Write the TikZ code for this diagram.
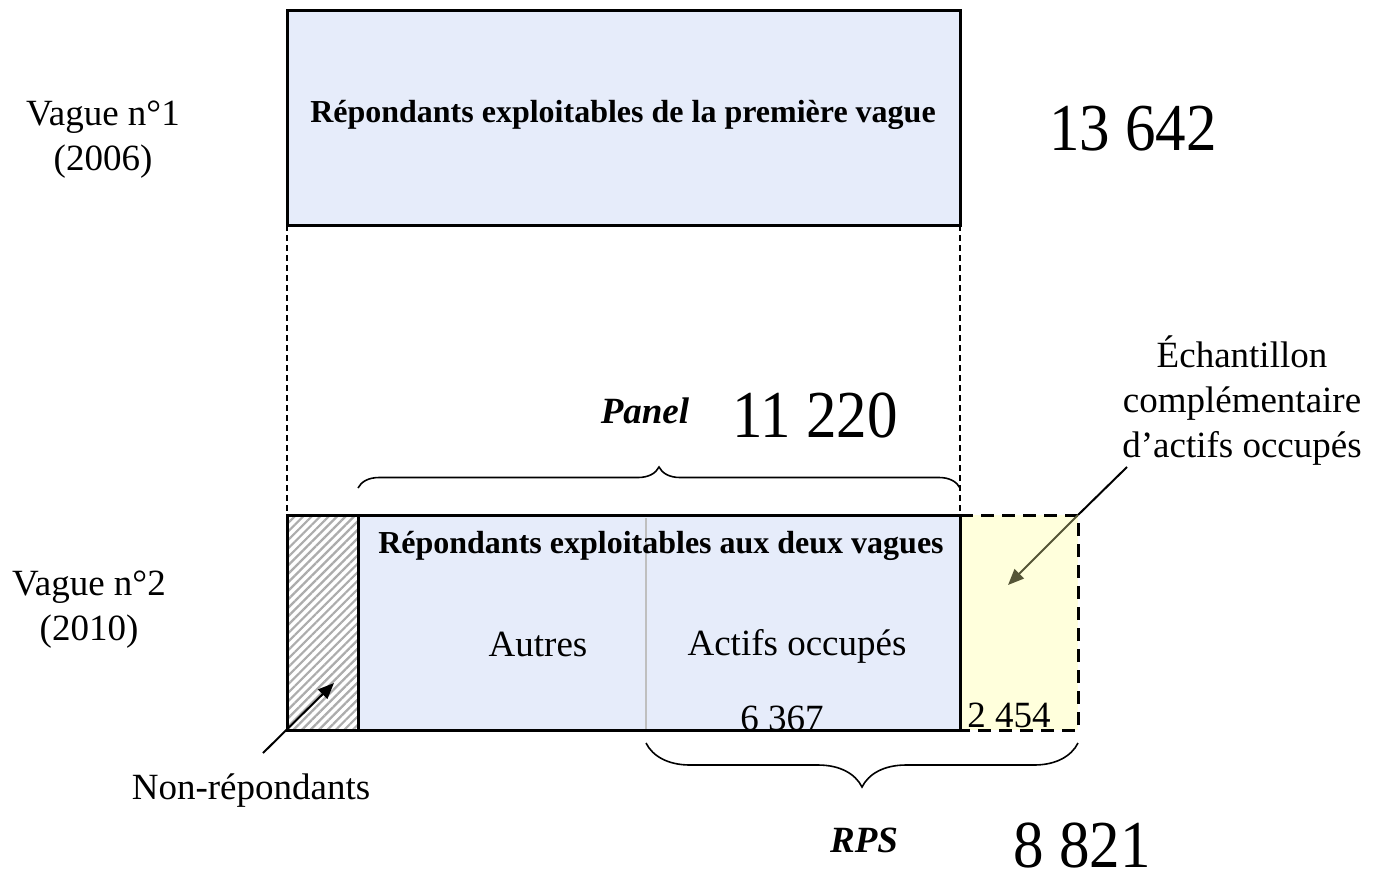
\documentclass[tikz,border=0pt]{standalone}
\usepackage{fontspec}
\setmainfont{Liberation Serif}
\usepackage{xcolor}
\usetikzlibrary{positioning,calc,decorations.pathreplacing,arrows.meta,patterns.meta}
\definecolor{bleuclair}{RGB}{230,236,250}
\definecolor{jauneclair}{RGB}{255,255,220}
\definecolor{olivefonce}{RGB}{85,85,55}

\begin{document}
\begin{tikzpicture}[x=0.5pt,y=-0.5pt,
    texte/.style={font=\fontsize{18.5}{22.5}\selectfont, inner sep=0pt, align=center},
    titre/.style={font=\fontsize{16}{19}\selectfont\bfseries, inner sep=0pt},
    nom/.style={font=\fontsize{18.5}{22}\selectfont\bfseries\itshape, inner sep=0pt},
    effectif/.style={font=\fontsize{30.5}{31}\selectfont, inner sep=0pt},
    cadre/.style={line width=1.5pt},
    rappel/.style={line width=0.7pt, dash pattern=on 3pt off 2pt},
    accolade/.style={decorate, line width=0.8pt},
    fleche/.style={-{Triangle[length=8pt,width=6.5pt]}, line width=1pt}]
  \useasboundingbox (0,0) rectangle (1374,879);

  % première vague
  \filldraw[fill=bleuclair, cadre] (287,10) rectangle (960,225);
  \node[titre, anchor=base] (titre1) at (623,122) {Répondants exploitables de la première vague};
  \node[texte, anchor=base] (vague1) at (103,170) {Vague n°1\\(2006)};
  \node[effectif, anchor=base] (n1) at (1133,150) {\scalebox{1}[1.1]{13 642}};

  % lignes de rappel
  \draw[rappel] (287,225) -- (287,515);
  \draw[rappel] (960,225) -- (960,515);

  % échantillon complémentaire
  \fill[jauneclair] (960,515) rectangle (1078,730);
  \draw[line width=1.5pt, dash pattern=on 6.5pt off 4pt] (960,515) -- (1078,515) -- (1078,730) -- (960,730);

  % deuxième vague
  \fill[bleuclair] (358,515) rectangle (960,730);
  \fill[white] (287,515) rectangle (358,730);
  \fill[pattern={Lines[angle=45,distance=3pt,line width=1.1pt]}, pattern color=gray!65] (287,515) rectangle (358,730);
  \draw[gray!50, line width=0.8pt] (646,518) -- (646,730);
  \draw[cadre] (287,515) rectangle (960,730);
  \draw[cadre] (358,515) -- (358,730);
  \node[texte, anchor=base] (vague2) at (89,640) {Vague n°2\\(2010)};
  \node[titre, anchor=base] (titre2) at (661,553) {Répondants exploitables aux deux vagues};
  \node[texte, anchor=base] (autres) at (538,656) {Autres};
  \node[texte, anchor=base] (actifs) at (797,655) {Actifs occupés};
  \node[texte, anchor=base] (n4) at (782,730) {6 367};
  \node[texte, anchor=base] (n5) at (1009,727) {2 454};

  % panel
  \draw[accolade, decoration={brace, amplitude=10.5pt}] (358,488) -- (960,488);
  \node[nom, anchor=base] (panel) at (645,423) {Panel};
  \node[effectif, anchor=base] (n2) at (815,437) {\scalebox{1}[1.1]{11 220}};

  % RPS
  \draw[accolade, decoration={brace, amplitude=22pt}] (1078,743) -- (646,743);
  \node[nom, anchor=base] (rps) at (864,852) {RPS};
  \node[effectif, anchor=base] (n3) at (1082,867) {\scalebox{1}[1.1]{8 821}};

  % non-répondants
  \node[texte, anchor=base] (nonrep) at (251,799) {Non-répondants};
  \coordinate (nrdepart) at (263,753);
  \coordinate (nrcible) at (334,683);
  \draw[fleche] (nrdepart) -- (nrcible);

  % légende de l'échantillon complémentaire
  \node[texte, anchor=base] (echant) at (1242,457) {Échantillon\\complémentaire\\d’actifs occupés};
  \coordinate (echdepart) at (1127,467);
  \coordinate (coinjaune) at (1078,515);
  \coordinate (echcible) at (1008,585);
  \draw[line width=1pt] (echdepart) -- (coinjaune);
  \draw[fleche, olivefonce] (coinjaune) -- (echcible);
\end{tikzpicture}
\end{document}
